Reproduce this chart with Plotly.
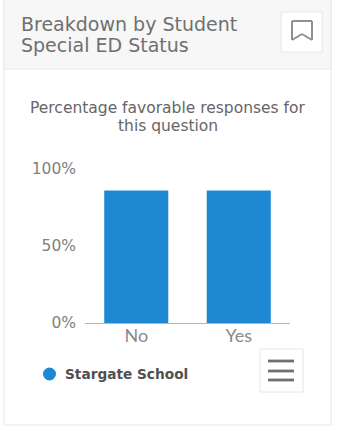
import plotly.graph_objects as go

categories = ["No", "Yes"]
series_name = "Stargate School"
values = [86, 86]
y_ticks = [0, 50, 100]
y_labels = ["0%", "50%", "100%"]
title_lines = ["Breakdown by Student", "Special ED Status"]
subtitle_lines = ["Percentage favorable responses for", "this question"]

W, H = 337, 432
px = lambda x: x / W
py = lambda y: 1 - y / H
FONT = "DejaVu Sans"

fig = go.Figure(go.Bar(x=categories, y=values, name=series_name,
                       marker=dict(color="#1e88d2", line=dict(width=0))))


def rect(x0, y0, x1, y1, **kw):
    fig.add_shape(type="rect", xref="paper", yref="paper", x0=px(x0), x1=px(x1), y0=py(y0), y1=py(y1), layer="below", **kw)


def line(x0, y0, x1, y1, color, width):
    fig.add_shape(type="line", xref="paper", yref="paper", x0=px(x0), x1=px(x1), y0=py(y0), y1=py(y1),
                  line=dict(color=color, width=width))


def text(x, y, s, size, color, anchor="left", family=FONT, weight="normal"):
    fig.add_annotation(xref="paper", yref="paper", x=px(x), y=py(y), text=s, showarrow=False, borderpad=0,
                       xanchor=anchor, yanchor="middle",
                       font=dict(size=size, color=color, family=family, weight=weight))


# card and header
rect(4, -2, 331, 425, fillcolor="#ffffff", line=dict(color="#e6e6e6", width=1))
rect(4, -2, 331, 69, fillcolor="#f7f7f7", line=dict(color="#e8e8e8", width=1))
rect(281, 12, 322, 52, fillcolor="#ffffff", line=dict(color="#e6e6e6", width=1))
rect(260, 349, 303, 392, fillcolor="#ffffff", line=dict(color="#e6e6e6", width=1))

# bookmark icon
for a in [(292, 21, 312, 21), (292, 21, 292, 40), (312, 21, 312, 40), (292, 40, 302, 34), (312, 40, 302, 34)]:
    line(*a, "#909090", 2)
# menu icon
for y in (361, 371, 380):
    line(268, y, 294, y, "#707070", 2.8)

text(20, 24, title_lines[0], 19, "#707070")
text(20, 45, title_lines[1], 19, "#707070")
text(167.5, 108, subtitle_lines[0], 15.5, "#666666", "center")
text(167.5, 126, subtitle_lines[1], 15.5, "#666666", "center")
text(64, 374, series_name, 13.7, "#505050", weight="bold")
fig.add_shape(type="circle", xref="paper", yref="paper", x0=px(43), x1=px(56), y0=py(380.5), y1=py(367.5),
              fillcolor="#1e88d2", line=dict(width=0))

fig.update_layout(
    width=W, height=H, margin=dict(l=0, r=0, t=0, b=0, autoexpand=False), showlegend=False,
    paper_bgcolor="#ffffff", plot_bgcolor="rgba(0,0,0,0)", bargap=0.375,
    xaxis=dict(domain=[px(85), px(290)], showline=True, linecolor="#b5b5b5", linewidth=1, ticks="",
               automargin=False, ticklabelstandoff=-4,
               tickfont=dict(size=18, color="#8a8a8a", family="Lato"), fixedrange=True),
    yaxis=dict(domain=[py(323), py(169)], range=[0, 100], tickvals=y_ticks, ticktext=y_labels,
               showgrid=False, zeroline=False, ticks="", ticklabelstandoff=8, automargin=False,
               tickfont=dict(size=15.5, color="#808080", family=FONT), fixedrange=True),
)
fig.write_html("out.html", config={"displayModeBar": False},
               post_script="document.body.style.margin='0';")
